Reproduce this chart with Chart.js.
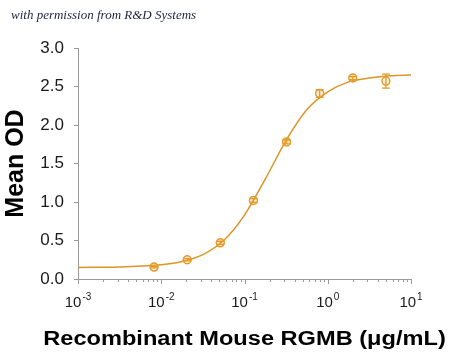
<!DOCTYPE html>
<html>
<head>
<meta charset="utf-8">
<script src="https://cdn.jsdelivr.net/npm/chart.js@4.4.1/dist/chart.umd.min.js"></script>
<style>
  html, body { margin: 0; padding: 0; background: #fff; }
  #wrap { position: relative; width: 450px; height: 354px; }
  #note {
    position: absolute; left: 11px; top: 7px;
    font: italic 13px "Liberation Serif", "DejaVu Serif", serif;
    color: #1c2244; white-space: nowrap;
  }
</style>
</head>
<body>
<div id="wrap">
  <canvas id="myChart" width="450" height="354"></canvas>
  <div id="note">with permission from R&amp;D Systems</div>
</div>
<script>
// measured points (2.5-fold dilution series)
var doseX = [0.0082, 0.0205, 0.0512, 0.128, 0.32, 0.8, 2, 5];
var meanOD = [0.155, 0.25, 0.47, 1.02, 1.78, 2.41, 2.61, 2.57];
var errOD = [0.01, 0.015, 0.02, 0.025, 0.025, 0.05, 0.02, 0.09];

// fitted curve
var curveX = [0.001, 0.00316, 0.01, 0.0178, 0.0316, 0.0562, 0.1, 0.178, 0.316, 0.562, 1, 1.78, 3.16, 5.62, 10];
var curveY = [0.15, 0.157, 0.184, 0.226, 0.317, 0.50, 0.83, 1.30, 1.80, 2.20, 2.43, 2.56, 2.61, 2.64, 2.65];

// axis ticks
var xDecades = [0.001, 0.01, 0.1, 1, 10];
var xExponents = ['-3', '-2', '-1', '0', '1'];
var minorSteps = [2, 3, 4, 5, 6, 7, 8, 9];

var orange = '#e39a28';
var lineOrange = '#dc9526';
var axisGray = '#9a9a9a';

var pts = [];
for (var i = 0; i < doseX.length; i++) pts.push({x: doseX[i], y: meanOD[i]});
var curve = [];
for (var j = 0; j < curveX.length; j++) curve.push({x: curveX[j], y: curveY[j]});

// error bars + x ticks/labels + x title
var extras = {
  id: 'extras',
  afterDatasetsDraw: function(chart) {
    var c = chart.ctx, xs = chart.scales.x, ys = chart.scales.y;
    c.save();
    c.strokeStyle = orange;
    c.lineWidth = 1.3;
    for (var i = 0; i < doseX.length; i++) {
      var px = xs.getPixelForValue(doseX[i]);
      var t = ys.getPixelForValue(meanOD[i] + errOD[i]);
      var b = ys.getPixelForValue(meanOD[i] - errOD[i]);
      c.beginPath();
      c.moveTo(px, t); c.lineTo(px, b);
      c.moveTo(px - 4, t); c.lineTo(px + 4, t);
      c.moveTo(px - 4, b); c.lineTo(px + 4, b);
      c.stroke();
    }
    c.restore();
  },
  afterDraw: function(chart) {
    var c = chart.ctx, xs = chart.scales.x, area = chart.chartArea;
    var y0 = area.bottom;
    c.save();
    // ticks
    c.strokeStyle = axisGray;
    c.lineWidth = 1;
    c.beginPath();
    for (var d = 0; d < xDecades.length; d++) {
      var px = Math.round(xs.getPixelForValue(xDecades[d])) + 0.5;
      c.moveTo(px, y0); c.lineTo(px, y0 + 5);
      if (d < xDecades.length - 1) {
        for (var m = 0; m < minorSteps.length; m++) {
          var mx = Math.round(xs.getPixelForValue(xDecades[d] * minorSteps[m])) + 0.5;
          c.moveTo(mx, y0); c.lineTo(mx, y0 + 3);
        }
      }
    }
    c.stroke();
    // labels 10^n
    c.fillStyle = '#1a1a1a';
    c.textBaseline = 'alphabetic';
    c.textAlign = 'left';
    for (var k = 0; k < xDecades.length; k++) {
      var cx = xs.getPixelForValue(xDecades[k]);
      c.font = '15px "Liberation Sans", Arial, sans-serif';
      var wb = c.measureText('10').width;
      c.font = '10px "Liberation Sans", Arial, sans-serif';
      var we = c.measureText(xExponents[k]).width;
      var left = cx - (wb + we + 1) / 2;
      c.font = '15px "Liberation Sans", Arial, sans-serif';
      c.fillText('10', left, 307);
      c.font = '10px "Liberation Sans", Arial, sans-serif';
      c.fillText(xExponents[k], left + wb + 1, 300);
    }
    // x title, slightly widened like the source
    c.font = 'bold 20px "Liberation Sans", Arial, sans-serif';
    c.fillStyle = '#000';
    c.textAlign = 'center';
    c.translate((area.left + area.right) / 2, 345);
    c.scale(1.18, 1);
    c.fillText('Recombinant Mouse RGMB (\u03bcg/mL)', 0, 0);
    c.restore();
  }
};

new Chart(document.getElementById('myChart'), {
  type: 'line',
  data: {
    datasets: [{
      type: 'scatter',
      data: pts,
      showLine: false,
      pointStyle: 'circle',
      pointRadius: 4,
      pointBorderWidth: 1.4,
      pointBorderColor: orange,
      pointBackgroundColor: 'rgba(240,180,90,0.25)',
      order: 0
    }, {
      data: curve,
      borderColor: lineOrange,
      borderWidth: 1.5,
      pointRadius: 0,
      cubicInterpolationMode: 'monotone',
      fill: false,
      order: 1
    }]
  },
  options: {
    responsive: false,
    animation: false,
    layout: { padding: { top: 48, right: 39, left: 0, bottom: 0 } },
    plugins: { legend: { display: false }, tooltip: { enabled: false } },
    scales: {
      x: {
        type: 'logarithmic',
        min: 0.001,
        max: 10,
        grid: { display: false },
        border: { display: true, color: axisGray, width: 1 },
        ticks: { display: false },
        afterFit: function(s) { s.height = 75; }
      },
      y: {
        min: 0,
        max: 3,
        grid: { drawOnChartArea: false, drawTicks: true, tickLength: 4, color: axisGray },
        border: { display: true, color: axisGray, width: 1 },
        ticks: {
          stepSize: 0.5,
          padding: 10,
          color: '#1a1a1a',
          font: { family: '"Liberation Sans", Arial, sans-serif', size: 17 },
          callback: function(v) { return v.toFixed(1); }
        },
        title: {
          display: true,
          text: 'Mean OD',
          color: '#000',
          padding: { top: 1, bottom: 0 },
          font: { family: '"Liberation Sans", Arial, sans-serif', size: 25, weight: 'bold' }
        },
        afterFit: function(s) { s.width = 78; }
      }
    }
  },
  plugins: [extras]
});
</script>
</body>
</html>
